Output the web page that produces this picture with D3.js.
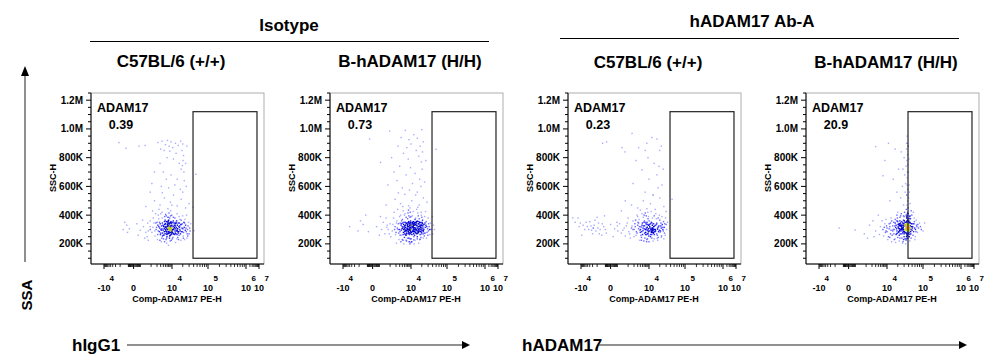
<!DOCTYPE html>
<html>
<head>
<meta charset="utf-8">
<script src="https://cdnjs.cloudflare.com/ajax/libs/d3/7.8.5/d3.min.js"></script>
<style>
body { margin: 0; background: #fff; }
text { font-family: "Liberation Sans", Arial, sans-serif; font-weight: bold; fill: #000; }
</style>
</head>
<body>
<script>
// size of the figure
var width = 995;
var height = 363;

// labels
var groupLabels = ["Isotype", "hADAM17 Ab-A"];
var genotypes = ["C57BL/6 (+/+)", "B-hADAM17 (H/H)", "C57BL/6 (+/+)", "B-hADAM17 (H/H)"];
var gateName = "ADAM17";
var gatePercents = ["0.39", "0.73", "0.23", "20.9"];
var xAxisLabel = "Comp-ADAM17 PE-H";
var yAxisLabel = "SSC-H";

// gate (PE-H, SSC-H in K)
var gateX = [38500, 7000000];
var gateY = [100, 1120];

// axis ticks
var yTicks = [200, 400, 600, 800, 1000, 1200];
var yTickLabels = ["200K", "400K", "600K", "800K", "1.0M", "1.2M"];
var xTicks = [-10000, 0, 10000, 100000, 1000000, 10000000];
var xTickLabels = [["-10", "4"], ["0", ""], ["10", "4"], ["10", "5"], ["10", "6"], ["10", "7"]];

// events: [Comp-ADAM17 PE-H, SSC-H (K)]
var isoWt = [
[3100,300],[4200,320],[5200,290],[6100,335],[7400,305],[8800,280],[9500,325],[11000,300],[12500,340],[14000,295],
[2600,285],[3600,345],[4800,270],[5600,310],[6800,360],[7900,255],[10500,350],[13000,270],[15500,320],[17000,290],
[2200,330],[2900,265],[3900,295],[4500,355],[5900,250],[6400,300],[7000,330],[8200,310],[9200,265],[10000,295],
[11800,315],[13500,360],[16000,345],[19000,310],[21000,280],[24000,330],[27000,300],[30000,270],[1800,300],[1400,345],
[1100,280],[2400,375],[3400,240],[4600,390],[5300,230],[6600,385],[7700,240],[8600,395],[10200,235],[12000,380],
[14500,245],[18000,365],[20500,255],[23000,370],[26000,240],[29000,350],[31000,310],[900,320],[700,290],[1600,255],
[3000,410],[4000,260],[5000,340],[5800,275],[6300,325],[7200,285],[8000,345],[9000,300],[9800,330],[11200,270],
[12800,305],[15000,275],[16500,300],[17500,335],[22000,315],[25000,285],[28000,325],[2000,350],[2700,310],[3300,325],
[3700,275],[4400,305],[4900,315],[5500,285],[6000,320],[6500,270],[7100,345],[7600,295],[8400,325],[8900,345],
[9700,285],[10800,320],[11500,345],[12200,290],[13300,315],[14200,330],[15800,260],[16800,370],[18500,285],[19500,340],
[21500,350],[23500,295],[2300,400],[3500,420],[5100,405],[7300,415],[9600,400],[13800,410],[19800,395],[25500,400],
[1300,380],[900,360],[600,250],[3200,215],[5700,205],[8300,220],[12600,210],[17800,225],[22500,230],[6900,190],
[4100,235],[10600,245],[15200,230],[2100,230],[27500,255],[32000,290],[33000,340],[1700,410],[2500,440],[8700,430],
[7200,310],[7800,305],[7400,322],[8300,300],[7700,312],[6700,308],[8500,316],[7600,300],
[1900,315],[2300,290],[2650,350],[3050,275],[3450,305],[3850,330],[4250,260],[4650,335],[5050,300],[5450,355],
[5850,265],[6250,345],[6650,285],[7050,365],[7450,275],[7850,330],[8250,260],[8650,300],[9050,355],[9450,275],
[9850,310],[10400,280],[10900,360],[11400,305],[11900,265],[12400,325],[12900,350],[13400,290],[13900,265],[14400,305],
[14900,345],[15400,285],[16200,315],[17200,270],[18200,335],[19200,285],[20200,305],[22500,345],[24500,310],[26500,270],
[1250,315],[1550,290],[1750,345],[2150,265],[2450,320],[2850,340],[3250,295],[3650,255],[4050,325],[4450,285],
[4850,365],[5250,320],[5650,240],[6050,300],[6450,355],[6850,275],[7250,340],[7650,325],[8050,280],[8450,350],
[8850,290],[9250,310],[9650,345],[10300,300],[10700,270],[11600,330],[12400,275],[13200,345],[14600,285],[16400,325],
[3550,380],[5450,395],[7850,380],[10900,385],[15800,390],[2750,225],[4550,215],[9350,225],[13700,235],[20800,240],
[-600,300],[-300,330],[-150,305],[80,340],[200,295],[350,320],[500,280],[650,345],[-450,350],[120,260],
[420,240],[700,225],[-250,280],[300,365],[900,300],
[500,460],[1500,500],[2800,470],[4500,520],[6500,445],[8500,490],[11000,540],[14000,465],[18000,510],[24000,450],
[3600,555],[9800,470],[20000,560],[1200,430],[30000,480],
[2200,905],[3500,915],[5000,890],[6200,920],[7500,880],[9000,910],[10500,870],[12500,900],[15000,885],[17500,915],
[20000,895],[3000,860],[4300,850],[8000,845],[13000,830],[19000,850],[21000,815],[20500,780],[19500,745],[18000,720],
[21500,700],[16000,760],[11000,790],[6000,800],[2800,760],[1500,700],[4000,700],[9000,680],[14000,650],[22000,640],
[1100,620],[3200,600],[7000,590],[12000,610],[17000,580],[25000,600],[24000,760],[26000,880],[900,560],[5500,650],
[-1200,905],[-350,865],[150,880],[450,885],
[46000,684],[41000,292],[39000,455]
];

var isoH = [
[2500,300],[3500,330],[4500,280],[5500,350],[6500,310],[7500,270],[8500,340],[9500,300],[11000,320],[12500,285],
[14000,345],[16000,300],[18000,265],[20000,330],[22000,295],[25000,315],[28000,280],[31000,340],[1800,320],[1300,290],
[1000,340],[800,300],[3000,260],[4000,370],[5000,245],[6000,385],[7000,240],[8000,395],[9000,235],[10000,390],
[12000,250],[13500,380],[15000,235],[17000,375],[19000,245],[21000,365],[23500,255],[26500,355],[29500,260],[33000,300],
[2200,360],[2800,230],[3300,400],[4300,225],[5300,410],[6300,220],[7300,415],[8300,215],[9300,420],[10500,215],
[11500,425],[13000,225],[15500,415],[17500,230],[19500,400],[24000,390],[27000,240],[30000,380],[1500,380],[1100,250],
[3800,305],[4800,318],[5800,292],[6800,326],[7800,300],[8800,316],[9800,284],[10800,334],[11800,298],[12800,312],
[13800,275],[14800,325],[15800,290],[16800,338],[17800,302],[18800,318],[19800,282],[21500,310],[23000,335],[24500,275],
[3600,340],[4600,300],[5600,265],[6600,290],[7600,350],[8600,275],[9600,360],[10600,265],[11600,355],[12600,260],
[13600,350],[14600,270],[16500,355],[18500,285],[20500,345],[22500,270],[26000,330],[29000,305],[32000,320],[2000,280],
[2600,340],[3100,285],[4100,345],[5100,325],[6100,270],[7100,335],[8100,295],[9100,325],[10100,310],[11100,288],
[12100,342],[13100,302],[14100,296],[15100,358],[16100,278],[17100,322],[18100,348],[19100,298],[20100,270],[21100,340],
[900,270],[700,330],[600,380],[1600,420],[2400,440],[3400,215],[4400,430],[7700,435],[9900,210],[14400,440],
[19300,420],[25500,425],[35000,345],[36000,300],[34000,265],[2100,205],[4700,200],[8900,200],[16400,205],[12300,200],
[10500,325],[11500,320],[12000,336],[11800,328],[11200,340],[12200,312],
[5200,285],[5600,292],[5400,296],[6200,294],[10700,330],[9600,312],[12800,330],[11600,310],
[2300,310],[2700,275],[3150,345],[3550,295],[3950,320],[4350,265],[4750,350],[5150,305],[5550,330],[5950,260],
[6350,345],[6750,300],[7150,320],[7550,285],[7950,355],[8350,305],[8750,265],[9150,345],[9550,290],[9950,335],
[10400,280],[10900,350],[11400,295],[11900,270],[12400,350],[12900,290],[13400,335],[13900,300],[14400,355],[14900,290],
[15400,310],[15900,340],[16400,285],[16900,305],[17400,350],[18400,315],[19400,330],[20400,295],[21400,325],[23000,300],
[24600,345],[27500,320],[30500,290],[1700,300],[1400,335],[1900,265],[2100,345],[2900,300],[3400,260],[3700,360],
[4200,310],[4600,335],[5100,270],[5500,315],[6000,340],[6400,275],[6900,305],[7300,345],[7700,320],[8100,280],
[8500,330],[8900,295],[9300,350],[9700,275],[10200,300],[10600,345],[11300,315],[11700,285],[12300,300],[12700,345],
[13300,280],[13700,310],[14300,330],[15200,275],[16200,320],[17200,290],[18200,330],[19200,310],[20200,350],[22200,285],
[3000,390],[5000,400],[7000,375],[9000,385],[11000,395],[13000,370],[16000,395],[20000,385],[4000,230],[6000,225],
[8000,240],[10000,235],[12000,228],[15000,250],[18000,232],[22000,240],
[-4000,320],[-300,400],[-1200,290],[200,260],[100,320],[400,350],[-500,335],[300,300],[500,270],[-150,285],
[650,315],[-800,360],[250,390],
[600,470],[1800,510],[3300,480],[5200,545],[7800,465],[10500,500],[13500,540],[17000,470],[22000,520],[28000,490],
[2600,555],[9000,450],[15500,455],[4200,460],
[950,985],[5500,990],[12000,960],[20000,995],[3500,940],[8000,925],[15000,935],[22000,910],[2500,880],[6500,870],
[10000,895],[18000,880],[4500,830],[14000,850],[21000,840],[1200,800],[7500,790],[16500,810],[19500,770],[3000,740],
[9500,730],[20500,720],[13000,690],[6000,680],[17500,650],[2200,640],[11000,620],[19000,600],[4000,590],[8500,575],
[24000,630],[1600,700],[26000,780],[15000,560],[750,610],
[250,767],[-100,930],
[50000,858],[42000,330],[45000,300],[40000,270],[39500,390]
];

var abWt = [
[2000,300],[3000,330],[4000,280],[5000,345],[6000,305],[7000,265],[8000,335],[9000,295],[10500,320],[12000,280],
[13500,340],[15000,300],[17000,260],[19000,325],[21000,290],[24000,315],[27000,275],[30000,335],[1500,310],[1100,285],
[800,325],[500,295],[300,340],[2500,260],[3500,370],[4500,245],[5500,385],[6500,240],[7500,395],[8500,235],
[9500,390],[11000,250],[12500,380],[14000,235],[16000,375],[18000,245],[20000,365],[22500,255],[25500,355],[28500,260],
[1800,360],[1300,240],[2800,400],[3800,225],[4800,410],[5800,220],[6800,415],[7800,215],[8800,420],[10000,215],
[11500,425],[13000,220],[15500,410],[17500,225],[19500,400],[23000,390],[26000,235],[29000,380],[1000,380],[700,255],
[3300,305],[4300,318],[5300,292],[6300,326],[7300,300],[8300,316],[9300,284],[10300,334],[11300,298],[12300,312],
[13300,275],[14300,325],[15300,290],[16300,338],[17300,302],[18300,318],[20500,282],[22000,310],[23500,335],[25000,290],
[2200,340],[2600,285],[3100,350],[4100,300],[5100,265],[6100,360],[7100,280],[8100,350],[9100,270],[10100,360],
[11100,265],[12100,345],[13100,300],[14100,265],[16500,345],[18500,285],[21500,345],[26500,315],[31000,300],[33000,350],
[12000,288],[12500,295],[11500,282],[13000,292],[11800,298],[12300,280],
[1800,300],[2300,320],[2800,275],[3300,345],[3800,295],[4300,260],[4800,330],[5300,310],[5800,350],[6300,275],
[6800,300],[7300,340],[7800,265],[8300,295],[8800,335],[9300,305],[9800,255],[10400,290],[10900,340],[11400,305],
[11900,265],[12400,330],[12900,310],[13400,280],[14400,300],[15400,330],[16400,270],[17400,310],[19400,295],[21400,325],
[24400,300],[27500,340],[600,310],[900,345],[1200,270],[1600,325],[2000,250],[2400,365],[3600,320],[4600,285],
[5600,325],[6600,350],[7600,310],[8600,270],[9600,330],[10600,310],[11600,350],[12600,305],[13600,320],[14600,285],
[-400,340],[-900,310],[-1600,330],[-2300,295],[-3000,355],[-700,270],[200,325],[400,275],[-1400,365],[-200,300],
[3000,390],[6000,400],[9000,375],[14000,395],[18000,380],[4500,225],[8000,230],[12000,240],[17000,238],[22000,245],
[-30000,380],[-22000,350],[-15000,380],[-9000,260],[-7500,330],[-5000,350],[-3500,300],[-2500,325],[-1800,310],[-1200,290],
[-800,345],[-600,300],[-300,320],[-150,275],[0,335],[100,305],[180,350],[-2000,270],[-4200,320],[-1000,385],
[-450,260],[-6000,300],[-250,395],[60,250],[220,290],[-13000,320],[-11000,345],
[400,430],[1500,470],[3000,450],[5500,500],[8000,445],[11000,480],[15000,440],[20000,520],[26000,460],[13000,540],
[4000,435],[30000,425],[700,500],
[1600,969],[-380,900],[-140,910],[440,870],[680,840],[3300,870],[6700,850],[12000,940],[16700,930],[20000,850],
[19000,740],[4800,715],[16700,680],[23000,610],[6700,560],[13000,540],[9000,800],[2500,780],[14000,760],[22000,880],
[10000,650],[1800,620],[25000,720],[8000,900],[18000,590],
[43800,510]
];

var abH = [
[15000,300],[18000,330],[21000,280],[24000,345],[27000,310],[30000,270],[33000,335],[36000,300],[12000,320],[10000,285],
[8000,340],[6500,300],[5000,320],[14000,260],[17000,370],[20000,245],[23000,385],[26000,240],[29000,395],[32000,235],
[35000,390],[13000,380],[11000,250],[9000,370],[7000,255],[16000,230],[19000,400],[22000,220],[25000,410],[28000,215],
[31000,420],[34000,225],[37000,410],[18500,305],[20500,318],[22500,292],[24500,326],[26500,300],[28500,316],[30500,284],
[32500,334],[34500,298],[36500,312],[19500,275],[21500,338],[23500,302],[25500,322],[27500,278],[29500,342],[31500,296],
[33500,318],[35500,268],[37500,345],[16500,325],[14500,290],[12500,345],[11500,305],[9500,325],[8500,280],[7500,315],
[23000,330],[24000,325],[22500,340],[24500,332],[22800,326],[21800,330],
[36000,320],[36500,330],[37000,300],[37500,285],[36800,350],[37200,365],[36200,275],[37800,310],[35800,340],[37400,335],
[36600,295],[37900,255],[35500,380],[37600,395],[36300,305],[26000,355],[28000,290],[30000,325],[32000,350],[34000,275],
[4500,265],[3000,290],[2500,250],[6000,360],[10500,230],[13500,215],[17500,210],[27000,205],[33000,200],[20000,420],
[15500,350],[19000,360],[29000,365],[18000,265],[26000,270],[30000,250],[22000,260],[35000,250],
[16000,300],[17500,315],[19000,290],[20500,335],[22000,305],[23500,270],[25000,300],[26500,330],[28000,310],[29500,285],
[31000,330],[32500,305],[34000,350],[35500,295],[37000,325],[14500,325],[13000,295],[11500,340],[10000,310],[9000,290],
[17000,345],[18500,270],[20000,355],[21500,285],[23000,360],[24500,290],[26000,315],[27500,345],[29000,300],[30500,360],
[32000,280],[33500,325],[35000,310],[36500,360],[37500,270],[15500,270],[12500,270],[21000,310],[25500,305],[28500,330],
[19500,380],[24000,395],[30000,390],[34500,400],[13500,360],[17000,235],[23000,240],[29000,230],[35000,235],[12000,245],
[36900,315],[37300,290],[36700,340],[37700,330],[36100,355],[37100,380],[37600,420],[36400,260],[37800,240],[35900,310],
[36500,950],[37000,900],[35000,860],[37500,820],[36000,780],[34000,740],[37200,700],[36800,660],[33000,620],[37800,580],
[35500,540],[37400,500],[36200,470],[34500,440],[30000,800],[28000,720],[25000,840],[32000,560],[31000,680],[27000,600],
[29000,470],[24000,520],[35000,900],[37600,750],[36400,610],
[3000,877],[6500,674],[11000,900],[8000,780],[15000,650],[19000,560],[12000,500],[21000,720],[17000,860],
[190,297],[1500,330],[800,270],[2200,360],[4000,400],[-500,310],[1200,240],
[40000,300],[42000,330],[41000,280],[43000,350],[44000,310],[46000,270],[48000,340],[50000,295],[52000,320],[55000,285],
[58000,355],[62000,300],[66000,330],[70000,280],[75000,310],[80000,345],[40500,360],[41500,250],[42500,390],[43500,265],
[45000,375],[47000,240],[49000,400],[53000,260],[57000,380],[61000,250],[65000,365],[90000,300],[110000,345],[39500,320],
[39800,345],[40200,270],[40800,315],[41200,295],[39200,305],[39600,335],[40600,290],[44500,325],[46500,300],[51000,310],
[39000,450],[40000,520],[41000,610],[39500,700],[40500,790],[42000,560],[44000,480],[39300,880],[47000,430],[54000,420],
[60000,230],[43000,220],[39100,410],[56000,340],[68000,320],
[40200,330],[41400,310],[42800,300],[44200,345],[45600,285],[48500,320],[52500,340],[39400,355],[40900,375],[43800,395],
[59000,310],[64000,285],[72000,335],[85000,320],[100000,290]
];

var panelData = [isoWt, isoH, abWt, abH];
var panelLeft = [91, 330, 568, 806];

// biexponential-like display transform
function biex(v) {
	return Math.sign(v) * Math.log10(1 + Math.abs(v) / 200);
}

var x = d3.scaleLinear()
	.domain(xTicks.map(biex))
	.range([13, 42.6, 81, 117, 155, 168]);

var y = d3.scaleLinear()
	.domain([60, 1250])
	.range([264, 93]);

var plotW = 173;

// minor ticks
var xMinor = [-9000, -8000, -7000, -6000, -5000, -4000, -3000, -2000, -1000,
	-200, -175, -150, -125, -100, -75, -50, -25, 25, 50, 75, 100, 125, 150, 175, 200, 1000];
[1000, 10000, 100000, 1000000].forEach(function(dec) {
	for (var m = 2; m <= 9; m++) xMinor.push(m * dec);
});
var yMinor = d3.range(100, 1251, 50).filter(function(v) { return yTicks.indexOf(v) < 0; });

// pseudocolour by local event density
var color = d3.scaleThreshold()
	.domain([3, 6, 11, 24, 30])
	.range(["#a8acff", "#6a6aff", "#2a2aff", "#0000d0", "#c0cc10", "#ff9020"]);

var svg = d3.select("body")
	.append("svg")
	.attr("width", width)
	.attr("height", height);

// group headers
var headerX = [289, 752];
var headerY = [31, 27];
var ruleY = [41.5, 38.5];
var ruleX = [[90, 489], [560, 959]];
groupLabels.forEach(function(lbl, i) {
	svg.append("text")
		.attr("x", headerX[i])
		.attr("y", headerY[i])
		.attr("text-anchor", "middle")
		.style("font-size", "17px")
		.text(lbl);
	svg.append("line")
		.attr("x1", ruleX[i][0]).attr("x2", ruleX[i][1])
		.attr("y1", ruleY[i]).attr("y2", ruleY[i])
		.attr("stroke", "#000")
		.attr("stroke-width", 1.2);
});

// one flow plot per panel
panelData.forEach(function(pts, i) {
	var g = svg.append("g").attr("transform", "translate(" + panelLeft[i] + ",0)");

	g.append("text")
		.attr("x", 80)
		.attr("y", i < 2 ? 67 : 68)
		.attr("text-anchor", "middle")
		.style("font-size", "17px")
		.text(genotypes[i]);

	// frame
	g.append("rect")
		.attr("x", 0).attr("y", y(1250))
		.attr("width", plotW).attr("height", y(60) - y(1250))
		.attr("fill", "none")
		.attr("stroke", "#9a9a9a")
		.attr("stroke-width", 0.8);

	// events
	var xy = pts.map(function(d) { return [x(biex(d[0])), y(d[1])]; });
	var dens = xy.map(function(p) {
		return xy.filter(function(q) {
			return Math.abs(q[0] - p[0]) < 3 && Math.abs(q[1] - p[1]) < 3;
		}).length - 1;
	});
	var order = d3.range(xy.length).sort(function(a, b) { return dens[a] - dens[b]; });
	g.selectAll("rect.ev")
		.data(order)
		.enter()
		.append("rect")
		.attr("class", "ev")
		.attr("x", function(k) { return xy[k][0] - 0.7; })
		.attr("y", function(k) { return xy[k][1] - 0.7; })
		.attr("width", 1.4)
		.attr("height", 1.4)
		.attr("fill", function(k) { return color(dens[k]); });

	// gate
	g.append("rect")
		.attr("x", x(biex(gateX[0])))
		.attr("y", y(gateY[1]))
		.attr("width", x(biex(gateX[1])) - x(biex(gateX[0])))
		.attr("height", y(gateY[0]) - y(gateY[1]))
		.attr("fill", "none")
		.attr("stroke", "#222")
		.attr("stroke-width", 1.2);

	g.append("text")
		.attr("x", 6).attr("y", 112)
		.style("font-size", "12.5px")
		.text(gateName);
	g.append("text")
		.attr("x", 30).attr("y", 129)
		.attr("text-anchor", "middle")
		.style("font-size", "12.5px")
		.text(gatePercents[i]);

	// axes
	g.append("line")
		.attr("x1", 0).attr("x2", 0)
		.attr("y1", y(1250)).attr("y2", y(60))
		.attr("stroke", "#000");
	g.append("line")
		.attr("x1", 0).attr("x2", plotW)
		.attr("y1", y(60)).attr("y2", y(60))
		.attr("stroke", "#000");

	g.selectAll("line.ymaj")
		.data(yTicks).enter().append("line")
		.attr("x1", -5).attr("x2", 0)
		.attr("y1", function(d) { return y(d); })
		.attr("y2", function(d) { return y(d); })
		.attr("stroke", "#000");
	g.selectAll("line.ymin")
		.data(yMinor).enter().append("line")
		.attr("x1", -3).attr("x2", 0)
		.attr("y1", function(d) { return y(d); })
		.attr("y2", function(d) { return y(d); })
		.attr("stroke", "#000");
	g.selectAll("text.ylab")
		.data(yTicks).enter().append("text")
		.attr("x", -8)
		.attr("y", function(d) { return y(d) + 3.5; })
		.attr("text-anchor", "end")
		.style("font-size", "10px")
		.text(function(d, j) { return yTickLabels[j]; });

	g.selectAll("line.xmaj")
		.data(xTicks).enter().append("line")
		.attr("x1", function(d) { return x(biex(d)); })
		.attr("x2", function(d) { return x(biex(d)); })
		.attr("y1", y(60)).attr("y2", y(60) + 5)
		.attr("stroke", "#000");
	g.selectAll("line.xmin")
		.data(xMinor).enter().append("line")
		.attr("x1", function(d) { return x(biex(d)); })
		.attr("x2", function(d) { return x(biex(d)); })
		.attr("y1", y(60)).attr("y2", y(60) + 3)
		.attr("stroke", "#000")
		.attr("stroke-width", 0.8);

	xTicks.forEach(function(d, j) {
		var cx = x(biex(d));
		g.append("text")
			.attr("x", cx).attr("y", 291)
			.attr("text-anchor", "middle")
			.style("font-size", "9px")
			.text(xTickLabels[j][0]);
		if (xTickLabels[j][1]) {
			g.append("text")
				.attr("x", cx + 5.5).attr("y", 281)
				.style("font-size", "8px")
				.text(xTickLabels[j][1]);
		}
	});

	g.append("text")
		.attr("x", 86).attr("y", 302)
		.attr("text-anchor", "middle")
		.style("font-size", "9px")
		.text(xAxisLabel);

	g.append("text")
		.attr("transform", "translate(-35,178) rotate(-90)")
		.attr("text-anchor", "middle")
		.style("font-size", "9px")
		.text(yAxisLabel);
});

// outer SSA axis arrow
svg.append("line")
	.attr("x1", 25).attr("x2", 25)
	.attr("y1", 262).attr("y2", 74)
	.attr("stroke", "#444")
	.attr("stroke-width", 1.2);
svg.append("path")
	.attr("d", "M25,66 L21,76 L29,76 Z")
	.attr("fill", "#000");
svg.append("text")
	.attr("transform", "translate(32,295) rotate(-90)")
	.attr("text-anchor", "middle")
	.style("font-size", "15px")
	.text("SSA");

// bottom treatment arrows
var arrowLabels = ["hIgG1", "hADAM17"];
var arrowText = [72, 522];
var arrowLine = [[127, 462], [598, 959]];
arrowLabels.forEach(function(lbl, i) {
	svg.append("text")
		.attr("x", arrowText[i]).attr("y", 351)
		.style("font-size", "17px")
		.text(lbl);
	svg.append("line")
		.attr("x1", arrowLine[i][0]).attr("x2", arrowLine[i][1])
		.attr("y1", 345).attr("y2", 345)
		.attr("stroke", "#222")
		.attr("stroke-width", 1);
	svg.append("path")
		.attr("d", "M" + (arrowLine[i][1] + 8) + ",345 L" + arrowLine[i][1] + ",341 L" + arrowLine[i][1] + ",349 Z")
		.attr("fill", "#000");
});
</script>
</body>
</html>
